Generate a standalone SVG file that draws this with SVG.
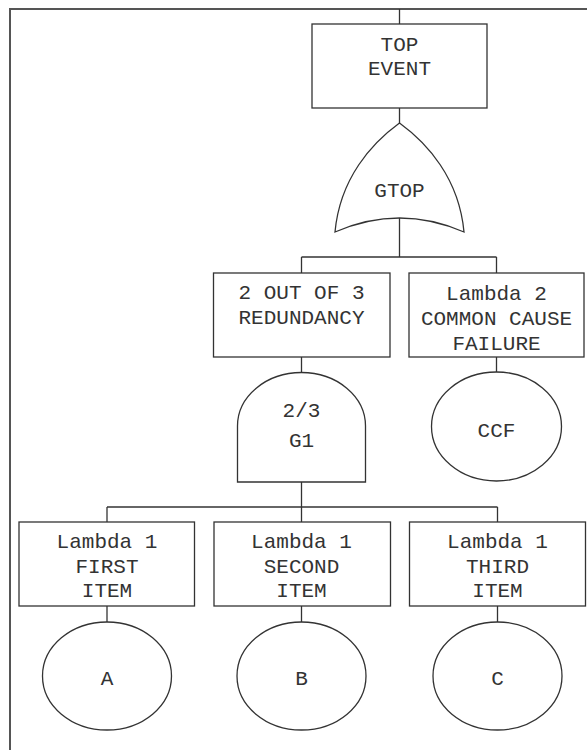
<svg xmlns="http://www.w3.org/2000/svg" width="587" height="750" viewBox="0 0 587 750">
  <style>
    .frame { fill: none; stroke: #555; stroke-width: 2; }
    .shape { fill: #fff; stroke: #333; stroke-width: 1.3; }
    .wire { fill: none; stroke: #333; stroke-width: 1.3; }
    text { font-family: "Liberation Mono", "Courier New", monospace; font-size: 21px; fill: #333; text-anchor: middle; }
  </style>
  <rect x="0" y="0" width="587" height="750" fill="#fff"/>

  <!-- page frame -->
  <path class="frame" d="M10,751 V9 H588"/>

  <!-- connectors -->
  <g id="connectors" class="wire">
    <path d="M399.5,9 V24"/>
    <path d="M399.5,108 V123"/>
    <path d="M399.5,218 V257"/>
    <path d="M301.5,257 H496.5"/>
    <path d="M301.5,257 V273"/>
    <path d="M496.5,257 V273"/>
    <path d="M301.5,357 V372.5"/>
    <path d="M496.5,357 V372"/>
    <path d="M301.5,482 V507"/>
    <path d="M107,507 H497.5"/>
    <path d="M107,507 V522"/>
    <path d="M301.5,507 V522"/>
    <path d="M497.5,507 V522"/>
    <path d="M107,606 V622"/>
    <path d="M301.5,606 V622"/>
    <path d="M497.5,606 V622"/>
  </g>

  <g id="top-event">
    <rect class="shape" x="312" y="24" width="175" height="84"/>
    <text x="399.5" y="51">TOP</text>
    <text x="399.5" y="75">EVENT</text>
  </g>

  <g id="gate-gtop">
    <path class="shape" d="M399.5,123 C372,143 340,178 335,232 Q399.5,204 464,232 C459,178 427,143 399.5,123 Z"/>
    <text x="399.5" y="197">GTOP</text>
  </g>

  <g id="redundancy">
    <rect class="shape" x="213.5" y="273" width="176.5" height="84"/>
    <text x="301.5" y="299">2 OUT OF 3</text>
    <text x="301.5" y="324">REDUNDANCY</text>
  </g>

  <g id="common-cause">
    <rect class="shape" x="409" y="273" width="175" height="84"/>
    <text x="496.5" y="300">Lambda 2</text>
    <text x="496.5" y="325">COMMON CAUSE</text>
    <text x="496.5" y="350">FAILURE</text>
  </g>

  <g id="gate-g1">
    <path class="shape" d="M237.5,482 V426 A64,53.5 0 0 1 365.5,426 V482 Z"/>
    <text x="301.5" y="416.5">2/3</text>
    <text x="301.5" y="446.5">G1</text>
  </g>

  <g id="event-ccf">
    <ellipse class="shape" cx="496.5" cy="426.5" rx="65" ry="54.5"/>
    <text x="496.5" y="437">CCF</text>
  </g>

  <g id="item-first">
    <rect class="shape" x="19" y="522" width="175.5" height="84"/>
    <text x="107" y="548">Lambda 1</text>
    <text x="107" y="572.5">FIRST</text>
    <text x="107" y="597">ITEM</text>
  </g>

  <g id="item-second">
    <rect class="shape" x="214" y="522" width="176.5" height="84"/>
    <text x="301.5" y="548">Lambda 1</text>
    <text x="301.5" y="572.5">SECOND</text>
    <text x="301.5" y="597">ITEM</text>
  </g>

  <g id="item-third">
    <rect class="shape" x="409.5" y="522" width="176" height="84"/>
    <text x="497.5" y="548">Lambda 1</text>
    <text x="497.5" y="572.5">THIRD</text>
    <text x="497.5" y="597">ITEM</text>
  </g>

  <g id="event-a">
    <ellipse class="shape" cx="107" cy="676" rx="64.5" ry="54"/>
    <text x="107" y="685">A</text>
  </g>

  <g id="event-b">
    <ellipse class="shape" cx="301.5" cy="676" rx="64.5" ry="54"/>
    <text x="301.5" y="685">B</text>
  </g>

  <g id="event-c">
    <ellipse class="shape" cx="497.5" cy="676" rx="64.5" ry="54"/>
    <text x="497.5" y="685">C</text>
  </g>
</svg>
